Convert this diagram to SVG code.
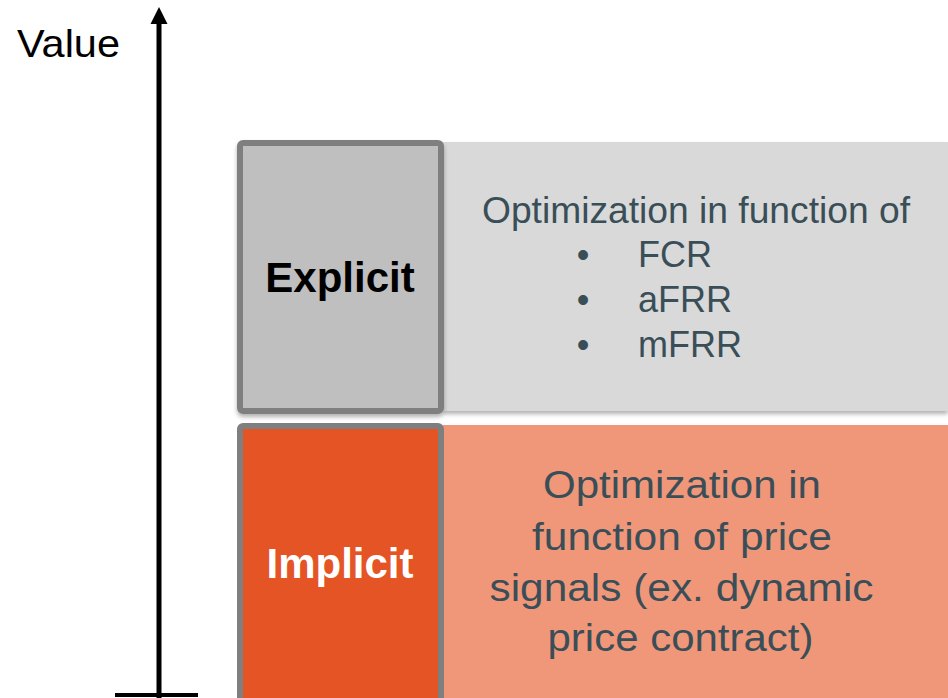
<svg xmlns="http://www.w3.org/2000/svg" width="948" height="698" viewBox="0 0 948 698">
  <defs>
    <filter id="sh" x="-5%" y="-5%" width="110%" height="115%">
      <feDropShadow dx="0" dy="3" stdDeviation="2" flood-color="#000" flood-opacity="0.3"/>
    </filter>
    <style>
      .lbl { font-family: "Liberation Sans", Arial, sans-serif; }
      .body { font-family: "Liberation Sans", Arial, sans-serif; font-size: 36px; fill: #3a4e57; }
      .low { font-size: 38px; }
      .head { font-family: "Liberation Sans", Arial, sans-serif; font-size: 42px; font-weight: bold; text-anchor: middle; }
      .box { stroke: #7f7f7f; stroke-width: 6; }
    </style>
  </defs>
  <rect width="948" height="698" fill="#ffffff"/>

  <g id="axis">
    <line x1="159" y1="698" x2="159" y2="22" stroke="#000" stroke-width="5"/>
    <path d="M150.5,24 L159,7 L167.5,24 Z" fill="#000"/>
    <line x1="115" y1="695" x2="198" y2="695" stroke="#000" stroke-width="4"/>
    <text class="lbl" x="17" y="57" font-size="39" fill="#000" textLength="103" lengthAdjust="spacingAndGlyphs">Value</text>
  </g>

  <g id="explicit-band">
    <rect x="443" y="142" width="505" height="269" fill="#d9d9d9" filter="url(#sh)"/>
    <text class="body" x="696" y="223" text-anchor="middle" textLength="428" lengthAdjust="spacingAndGlyphs">Optimization in function of</text>
    <text class="body" x="583" y="267" text-anchor="middle">•</text>
    <text class="body" x="638" y="267">FCR</text>
    <text class="body" x="583" y="312" text-anchor="middle">•</text>
    <text class="body" x="638" y="312">aFRR</text>
    <text class="body" x="583" y="357" text-anchor="middle">•</text>
    <text class="body" x="638" y="357">mFRR</text>
  </g>

  <g id="explicit">
    <rect class="box" x="240" y="143" width="201" height="268" rx="3" fill="#bfbfbf" filter="url(#sh)"/>
    <text class="head" x="340" y="292" fill="#000">Explicit</text>
  </g>

  <g id="implicit-band">
    <rect x="443" y="425" width="505" height="280" fill="#f0977a"/>
    <text class="body low" x="682" y="498" text-anchor="middle" textLength="278" lengthAdjust="spacingAndGlyphs">Optimization in</text>
    <text class="body low" x="682" y="550" text-anchor="middle" textLength="300" lengthAdjust="spacingAndGlyphs">function of price</text>
    <text class="body low" x="681.5" y="601" text-anchor="middle" textLength="384" lengthAdjust="spacingAndGlyphs">signals (ex. dynamic</text>
    <text class="body low" x="680.5" y="651" text-anchor="middle" textLength="266" lengthAdjust="spacingAndGlyphs">price contract)</text>
  </g>

  <g id="implicit">
    <rect class="box" x="240" y="426" width="201" height="280" rx="3" fill="#e55424"/>
    <text class="head" x="340" y="578" fill="#ffffff">Implicit</text>
  </g>

  <g id="connectors"></g>
</svg>
